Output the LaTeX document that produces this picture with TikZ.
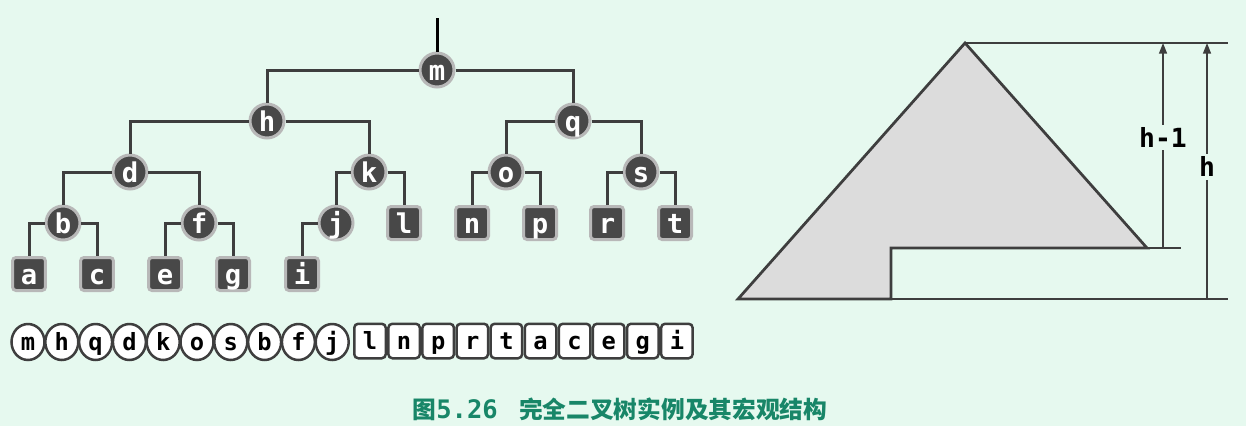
\documentclass[tikz,border=0pt]{standalone}
\usepackage{fontspec}
\usepackage{tikz}
\usetikzlibrary{shapes.geometric, arrows.meta, positioning}
\usepackage{xcolor}
\newfontfamily\dvmono{DejaVu Sans Mono}
\newfontfamily\cjkfont{Noto Sans CJK SC}
\definecolor{bgmint}{RGB}{230,249,239}
\definecolor{nodedark}{RGB}{72,72,72}
\definecolor{halo}{RGB}{184,184,184}
\definecolor{edgegray}{RGB}{62,62,62}
\definecolor{captiongreen}{RGB}{24,134,104}
\definecolor{pyrfill}{RGB}{220,220,220}
\tikzstyle{edge} = [line width=0.06cm, draw=edgegray]
\tikzstyle{treenode} = [circle, fill=nodedark, draw=halo, line width=0.06cm, minimum size=0.68cm, inner sep=0pt,
    text=white, font=\dvmono\bfseries\fontsize{15.5}{16}\selectfont, text height=11.6pt, text depth=0pt]
\tikzstyle{leafnode} = [treenode, rectangle, rounded corners=0.07cm, minimum size=0.66cm]
\tikzstyle{seqround} = [ellipse, draw=edgegray, fill=white, line width=0.05cm, minimum width=0.66cm, minimum height=0.72cm,
    inner sep=0pt, font=\dvmono\bfseries\fontsize{13.5}{14}\selectfont, text height=10.1pt, text depth=0pt]
\tikzstyle{seqbox} = [seqround, rectangle, rounded corners=0.08cm, minimum width=0.63cm, minimum height=0.69cm]
\tikzstyle{guide} = [line width=0.03cm, draw=edgegray]
\tikzstyle{dim} = [guide, -{Triangle[length=6pt, width=4.5pt]}]
\tikzstyle{dimlabel} = [fill=bgmint, inner sep=1.5pt, font=\dvmono\bfseries\fontsize{15}{16}\selectfont]

\begin{document}
\begin{tikzpicture}[x=0.02cm, y=-0.02cm]
    % Background
    \fill[bgmint] (0,0) rectangle (1246,426);

    % Tree: inner nodes
    \node[treenode] (m) at (437,70) {m};
    \node[treenode] (h) at (267,121) {h};
    \node[treenode] (q) at (573,121) {q};
    \node[treenode] (d) at (130,172) {d};
    \node[treenode] (k) at (369,172) {k};
    \node[treenode] (o) at (506,172) {o};
    \node[treenode] (s) at (641,172) {s};
    \node[treenode] (b) at (63,223) {b};
    \node[treenode] (f) at (199,223) {f};
    \node[treenode] (j) at (336,223) {j};

    % Tree: leaves
    \node[leafnode] (l) at (404,223) {l};
    \node[leafnode] (n) at (472,223) {n};
    \node[leafnode] (p) at (540,223) {p};
    \node[leafnode] (r) at (607,223) {r};
    \node[leafnode] (t) at (675,223) {t};
    \node[leafnode] (a) at (29,274) {a};
    \node[leafnode] (c) at (97,274) {c};
    \node[leafnode] (e) at (165,274) {e};
    \node[leafnode] (g) at (233,274) {g};
    \node[leafnode] (i) at (302,274) {i};

    % Tree edges
    \coordinate (root) at (437,18);
    \draw[line width=0.06cm, black] (root) -- (m);
    \foreach \u/\v in {m/h, m/q, h/d, h/k, q/o, q/s, d/b, d/f, k/j, k/l,
                       o/n, o/p, s/r, s/t, b/a, b/c, f/e, f/g, j/i}
        \draw[edge] (\u) -| (\v);

    % Level-order sequence
    \foreach \ch [count=\x from 0] in {m,h,q,d,k,o,s,b,f,j}
        \node[seqround] (sq\ch) at ({28+33.8*\x},342) {\ch};
    \foreach \ch [count=\x from 0] in {l,n,p,r,t,a,c,e,g,i}
        \node[seqbox] (sq\ch) at ({370+34.1*\x},341) {\ch};

    % Macro structure
    \coordinate (apex) at (965,43);
    \coordinate (baseL) at (738,299);
    \coordinate (tipR) at (1147,248);
    \coordinate (stepT) at (891,248);
    \coordinate (stepB) at (891,299);
    \draw[line width=0.055cm, draw=edgegray, fill=pyrfill] (baseL) -- (apex) -- (tipR) -- (stepT) -- (stepB) -- cycle;

    \coordinate (topR) at (1228,43);
    \coordinate (midR) at (1181,248);
    \coordinate (botR) at (1228,299);
    \draw[guide] (apex) -- (topR);
    \draw[guide] (tipR) -- (midR);
    \draw[guide] (stepB) -- (botR);

    \coordinate (hm1lo) at (1163,248);
    \coordinate (hm1hi) at (1163,43);
    \coordinate (hlo) at (1207,299);
    \coordinate (hhi) at (1207,43);
    \draw[dim] (hm1lo) -- (hm1hi) node[pos=0.54, dimlabel] (hm1) {h-1};
    \draw[dim] (hlo) -- (hhi) node[pos=0.516, dimlabel] (hh) {h};

    % Caption
    \node[text=captiongreen, font=\cjkfont\bfseries\fontsize{13.5}{16}\selectfont] (caption) at (620,409)
        {图{\dvmono\bfseries\fontsize{14.5}{16}\selectfont 5.26}\hspace{0.9em}完全二叉树实例及其宏观结构};
\end{tikzpicture}
\end{document}
